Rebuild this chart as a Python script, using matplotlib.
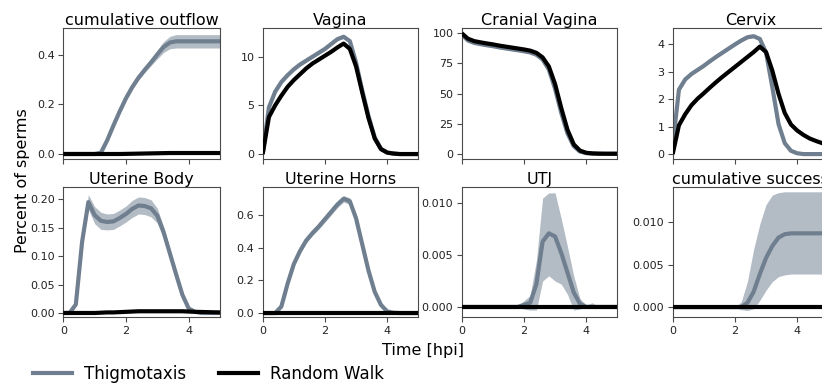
import numpy as np
import matplotlib
matplotlib.use("Agg")
import matplotlib.pyplot as plt
from matplotlib.lines import Line2D

# ---------------- data ----------------
t = [0.0, 0.2, 0.4, 0.6, 0.8, 1.0, 1.2, 1.4, 1.6, 1.8, 2.0, 2.2, 2.4, 2.6,
     2.8, 3.0, 3.2, 3.4, 3.6, 3.8, 4.0, 4.2, 4.4, 4.6, 4.8, 5.0]

titles = ["cumulative outflow", "Vagina", "Cranial Vagina", "Cervix",
          "Uterine Body", "Uterine Horns", "UTJ", "cumulative success"]

# cumulative outflow
outflow_thig = [0, 0, 0, 0, 0, 0, 0.005, 0.055, 0.115, 0.172, 0.225, 0.27, 0.308, 0.34,
                0.37, 0.402, 0.432, 0.45, 0.455, 0.455, 0.455, 0.455, 0.455, 0.455, 0.455, 0.455]
outflow_thig_sd = [0, 0, 0, 0, 0, 0, 0, 0.006, 0.008, 0.009, 0.009, 0.01, 0.01, 0.011,
                   0.013, 0.018, 0.022, 0.025, 0.027, 0.027, 0.027, 0.027, 0.027, 0.027, 0.027, 0.027]
outflow_rw = [0, 0, 0, 0, 0, 0, 0, 0, 0, 0, 0.0005, 0.001, 0.0015, 0.002,
              0.0025, 0.003, 0.0035, 0.004, 0.004, 0.004, 0.004, 0.004, 0.004, 0.004, 0.004, 0.004]

# Vagina
vagina_thig = [0, 4.8, 6.4, 7.4, 8.1, 8.7, 9.2, 9.6, 10.0, 10.4, 10.8, 11.3, 11.8, 12.05,
               11.6, 9.4, 6.5, 3.9, 1.7, 0.55, 0.15, 0.05, 0.0, 0.0, 0.0, 0.0]
vagina_thig_sd = [0, 0.15, 0.15, 0.15, 0.15, 0.15, 0.15, 0.15, 0.15, 0.15, 0.15, 0.15, 0.15, 0.15,
                  0.15, 0.15, 0.15, 0.15, 0.1, 0.05, 0.02, 0, 0, 0, 0, 0]
vagina_rw = [0, 3.8, 5.0, 6.0, 6.9, 7.6, 8.2, 8.8, 9.3, 9.7, 10.1, 10.5, 10.95, 11.35,
             10.8, 9.0, 6.3, 3.7, 1.6, 0.5, 0.15, 0.05, 0.0, 0.0, 0.0, 0.0]

# Cranial Vagina
cranial_thig = [99.0, 94.0, 92.0, 91.0, 90.1, 89.3, 88.3, 87.5, 86.7, 85.9, 85.1, 84.1, 82.2, 78.3,
                70.0, 54.0, 34.0, 17.0, 6.5, 2.0, 0.7, 0.3, 0.2, 0.2, 0.2, 0.2]
cranial_thig_sd = [0.5, 1.0, 1.0, 1.0, 1.0, 1.0, 1.0, 1.0, 1.0, 1.0, 1.0, 1.0, 1.0, 1.0,
                   1.0, 1.0, 1.0, 1.0, 0.8, 0.5, 0.3, 0.2, 0.1, 0.1, 0.1, 0.1]
cranial_rw = [100.0, 95.5, 93.5, 92.5, 91.6, 90.8, 89.8, 89.0, 88.2, 87.4, 86.6, 85.6, 83.8, 80.0,
              72.5, 58.0, 38.0, 20.0, 8.0, 2.8, 1.0, 0.5, 0.3, 0.2, 0.2, 0.2]

# Cervix
cervix_thig = [0.3, 2.35, 2.72, 2.92, 3.07, 3.22, 3.39, 3.55, 3.7, 3.85, 4.0, 4.14, 4.26, 4.3,
               4.2, 3.7, 2.45, 1.1, 0.4, 0.12, 0.03, 0.0, 0.0, 0.0, 0.0, 0.0]
cervix_thig_sd = [0.03, 0.05, 0.05, 0.05, 0.05, 0.05, 0.05, 0.05, 0.05, 0.05, 0.05, 0.05, 0.05, 0.05,
                  0.05, 0.05, 0.05, 0.05, 0.04, 0.02, 0.01, 0, 0, 0, 0, 0]
cervix_rw = [0, 1.05, 1.45, 1.78, 2.02, 2.22, 2.43, 2.63, 2.82, 3.0, 3.18, 3.36, 3.54, 3.72,
             3.92, 3.72, 3.05, 2.2, 1.5, 1.08, 0.86, 0.7, 0.57, 0.48, 0.4, 0.33]

# Uterine Body
body_thig = [0, 0, 0.015, 0.125, 0.195, 0.172, 0.162, 0.16, 0.161, 0.167, 0.174, 0.183, 0.189, 0.188,
             0.184, 0.171, 0.142, 0.105, 0.068, 0.032, 0.008, 0.002, 0, 0, 0, 0]
body_thig_sd = [0, 0, 0.002, 0.008, 0.013, 0.015, 0.015, 0.014, 0.014, 0.014, 0.014, 0.015, 0.015, 0.015,
                0.015, 0.013, 0.01, 0.008, 0.006, 0.004, 0.002, 0.001, 0, 0, 0, 0]
body_rw = [0, 0, 0, 0, 0, 0, 0.0005, 0.001, 0.001, 0.0015, 0.002, 0.0025, 0.003, 0.003,
           0.003, 0.003, 0.003, 0.003, 0.003, 0.003, 0.0025, 0.002, 0.0018, 0.0015, 0.0012, 0.001]

# Uterine Horns
horns_thig = [0, 0, 0, 0.04, 0.18, 0.30, 0.38, 0.445, 0.49, 0.53, 0.575, 0.62, 0.665, 0.70,
              0.685, 0.58, 0.42, 0.26, 0.13, 0.05, 0.01, 0.002, 0, 0, 0, 0]
horns_thig_sd = [0, 0, 0, 0.005, 0.012, 0.015, 0.015, 0.015, 0.015, 0.017, 0.018, 0.02, 0.02, 0.02,
                 0.02, 0.018, 0.015, 0.012, 0.008, 0.004, 0.002, 0, 0, 0, 0, 0]
horns_rw = [0] * 26

# UTJ
utj_thig = [0, 0, 0, 0, 0, 0, 0, 0, 0, 0, 0.0002, 0.0004, 0.0022, 0.0063,
            0.0071, 0.0068, 0.0052, 0.0033, 0.0014, 0.0003, 0.0, 0, 0, 0, 0, 0]
utj_thig_lo = [0, 0, 0, 0, 0, 0, 0, 0, 0, 0, -0.0002, -0.0003, -0.0003, 0.0025,
               0.003, 0.0025, 0.0022, 0.0012, -0.0003, -0.0002, 0, 0, 0, 0, 0, 0]
utj_thig_hi = [0, 0, 0, 0, 0, 0, 0, 0, 0, 0, 0.0006, 0.0011, 0.0045, 0.0105,
               0.011, 0.011, 0.0085, 0.0058, 0.003, 0.0008, 0.0002, 0.0004, 0, 0, 0, 0]
utj_rw = [0] * 26

# cumulative success
succ_thig = [0, 0, 0, 0, 0, 0, 0, 0, 0, 0, 0, 0, 0.0005, 0.0018,
             0.0039, 0.0058, 0.0072, 0.0082, 0.0086, 0.0087, 0.0087, 0.0087, 0.0087, 0.0087, 0.0087, 0.0087]
succ_thig_lo = [0, 0, 0, 0, 0, 0, 0, 0, 0, 0, 0, -0.0003, -0.0004, -0.0002,
                0.0008, 0.002, 0.003, 0.0036, 0.0038, 0.0039, 0.0039, 0.0039, 0.0039, 0.0039, 0.0039, 0.0039]
succ_thig_hi = [0, 0, 0, 0, 0, 0, 0, 0, 0, 0, 0, 0.0006, 0.003, 0.0068,
                0.0098, 0.0121, 0.0132, 0.0135, 0.0136, 0.0136, 0.0136, 0.0136, 0.0136, 0.0136, 0.0136, 0.0136]
succ_rw = [0] * 26

yticks = [[0.0, 0.2, 0.4], [0, 5, 10], [0, 25, 50, 75, 100], [0, 1, 2, 3, 4],
          [0.00, 0.05, 0.10, 0.15, 0.20], [0.0, 0.2, 0.4, 0.6], [0.000, 0.005, 0.010],
          [0.000, 0.005, 0.010]]
ytick_fmt = ["{:.1f}", "{:.0f}", "{:.0f}", "{:.0f}", "{:.2f}", "{:.1f}", "{:.3f}", "{:.3f}"]
ylims = [(-0.0214, 0.51), (-0.54, 12.98), (-4.4, 104.6), (-0.19, 4.61),
         (-0.0076, 0.222), (-0.026, 0.774), (-0.001, 0.0116), (-0.0012, 0.0142)]
xticks = [0, 2, 4]

thig = [outflow_thig, vagina_thig, cranial_thig, cervix_thig, body_thig, horns_thig, utj_thig, succ_thig]
rw = [outflow_rw, vagina_rw, cranial_rw, cervix_rw, body_rw, horns_rw, utj_rw, succ_rw]
sds = [outflow_thig_sd, vagina_thig_sd, cranial_thig_sd, cervix_thig_sd, body_thig_sd, horns_thig_sd]
los = [None] * 6 + [utj_thig_lo, succ_thig_lo]
his = [None] * 6 + [utj_thig_hi, succ_thig_hi]

# ---------------- figure ----------------
W, H = 822, 385
fig = plt.figure(figsize=(W / 100, H / 100), dpi=100)

col_left = [63.3, 262.7, 461.7, 672.7]
col_w = [156.7, 155.6, 155.6, 155.6]
row_top = [27.7, 186.7]
row_bot = [159.3, 317.3]

GRAY = "#6f7f8f"
BAND = "#b3bcc5"
SPINE = "#4a4a4a"

tarr = np.array(t)
for i in range(8):
    r, c = divmod(i, 4)
    ax = fig.add_axes([col_left[c] / W, 1 - row_bot[r] / H, col_w[c] / W,
                       (row_bot[r] - row_top[r]) / H])
    m = np.array(thig[i])
    if i < 6:
        sd = np.array(sds[i])
        lo, hi = m - sd, m + sd
    else:
        lo, hi = np.array(los[i]), np.array(his[i])
    ax.fill_between(tarr, lo, hi, color=BAND, lw=0, zorder=1)
    ax.plot(tarr, m, color=GRAY, lw=3.0, zorder=2, solid_capstyle="butt")
    ax.plot(tarr, rw[i], color="black", lw=3.0, zorder=3, solid_capstyle="butt")
    ax.set_xlim(0, 5)
    ax.set_ylim(*ylims[i])
    ax.set_xticks(xticks)
    ax.set_yticks(yticks[i])
    ax.set_yticklabels([ytick_fmt[i].format(v) for v in yticks[i]])
    if r == 0:
        ax.set_xticklabels([])
    ax.tick_params(labelsize=8, length=3.5, width=0.8, pad=2.5, colors=SPINE,
                   labelcolor="#222222")
    for s in ax.spines.values():
        s.set_color(SPINE)
        s.set_linewidth(0.8)
    ax.set_title(titles[i], fontsize=11.5, pad=1.0)

fig.text(423 / W, 1 - 350 / H, "Time [hpi]", ha="center", va="center", fontsize=11.5)
fig.text(22 / W, 1 - 181 / H, "Percent of sperms", ha="center", va="center",
         rotation=90, fontsize=11.5)

handles = [Line2D([], [], color=GRAY, lw=3.0), Line2D([], [], color="black", lw=3.0)]
fig.legend(handles, ["Thigmotaxis", "Random Walk"], loc="center left",
           bbox_to_anchor=(33 / W, 1 - 374 / H), ncol=2, frameon=False, fontsize=12,
           handlelength=2.35, handletextpad=0.7, columnspacing=2.0, borderpad=0,
           borderaxespad=0)

fig.savefig("out.png", dpi=100)
